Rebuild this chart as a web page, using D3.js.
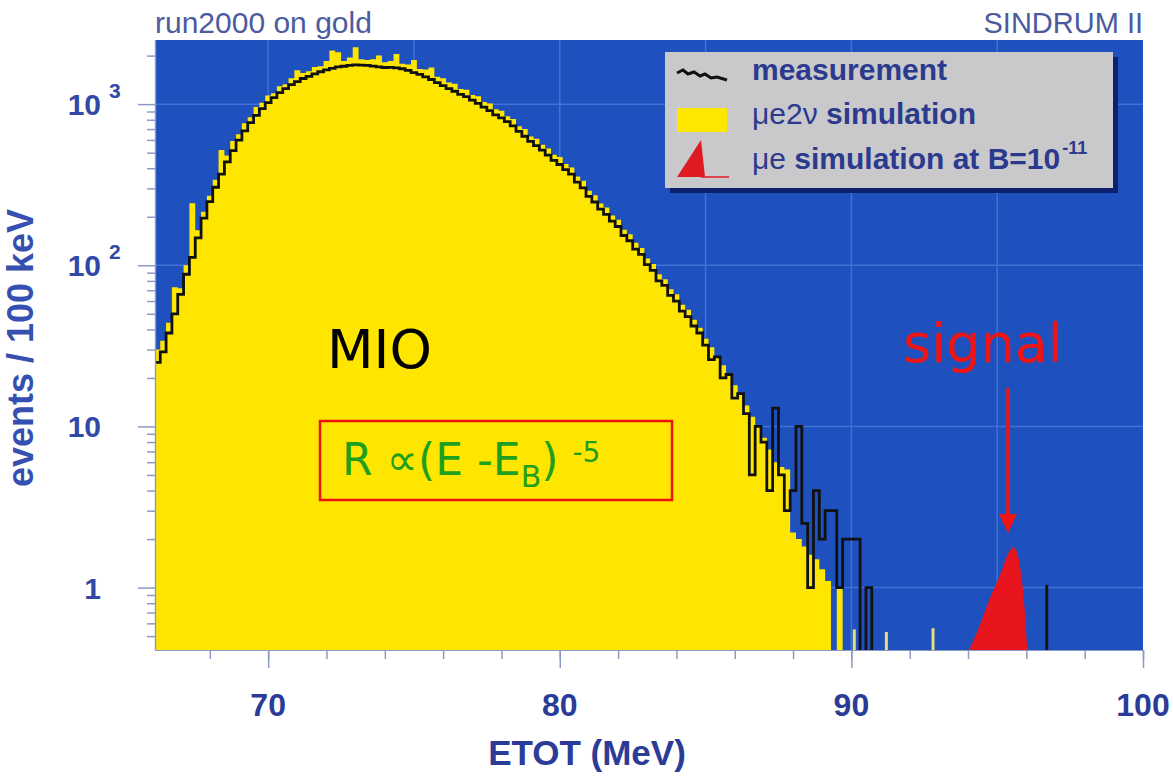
<!DOCTYPE html>
<html lang="en">
<head>
<meta charset="UTF-8">
<title>SINDRUM II - run2000 on gold</title>
<script src="https://d3js.org/d3.v7.min.js"></script>
<style>
  body { margin: 0; background: #fff; }
  svg { display: block; }
  text { font-family: "Liberation Sans", Arial, sans-serif; }
  .hand { font-family: "Comic Sans MS", "DejaVu Sans", sans-serif; }
</style>
</head>
<body>
<svg id="chart" width="1173" height="779"></svg>
<script>
// histogram binning (MeV)
var binStart = 66.1;
var binWidth = 0.2;

// mu -> e nu nu simulation (yellow), events / 100 keV
var simValues = [30, 34, 44, 73, 72, 100, 243, 165, 215, 270,
  340, 519, 480, 590, 650, 760, 830, 960, 1020, 1130,
  1170, 1290, 1330, 1450, 1620, 1560, 1600, 1700, 1720, 1850,
  2150, 2100, 1850, 1950, 2250, 1900, 1880, 1900, 2000, 1820,
  1850, 2050, 1780, 1760, 1880, 1650, 1640, 1690, 1480, 1450,
  1360, 1340, 1240, 1230, 1140, 1120, 1030, 1010, 930, 910,
  840, 810, 730, 700, 630, 610, 560, 530, 485, 470,
  425, 405, 355, 335, 290, 272, 242, 228, 204, 192,
  166, 156, 138, 128, 110, 102, 88, 82, 71, 66,
  57, 53, 46, 41, 35, 31, 27, 24, 21, 18,
  16, 13.5, 11.5, 10, 8.5, 7.2, 6, 5.6, 5.4, 2.2,
  2.0, 1.8, 1.6, 1.5, 1.3, 1.1, 0, 1.0, 0, 0,
  0, 0, 0, 0, 0];

// measurement (black line), same bins
var measValues = [25, 29, 38, 50, 66, 88, 112, 148, 196, 248,
  305, 368, 438, 515, 598, 682, 768, 852, 938, 1022,
  1098, 1180, 1248, 1322, 1378, 1442, 1488, 1542, 1588, 1632,
  1668, 1702, 1718, 1742, 1750, 1748, 1738, 1722, 1702, 1688,
  1692, 1678, 1658, 1622, 1568, 1532, 1478, 1422, 1358, 1302,
  1248, 1202, 1148, 1112, 1058, 1012, 958, 912, 858, 822,
  778, 732, 678, 632, 588, 552, 518, 482, 448, 422,
  392, 368, 328, 302, 268, 247, 223, 207, 188, 174,
  153, 142, 126, 117, 101, 93, 80, 75, 65, 60,
  52, 48, 42, 38, 32, 26, 27, 20, 21, 15,
  16, 12, 5, 10, 8, 4, 13, 5, 3, 4,
  10, 2.5, 1, 4, 2, 3, 3, 1, 2, 2,
  2, 0, 1, 0, 0];

// single 100 keV bins further out
var simTailE = [90.1, 91.2, 92.8];
var simTailV = [0.55, 0.53, 0.56];
var measTailE = [96.7];
var measTailV = [1.04];

// mu e conversion signal at B = 1e-11
var signalE = [94.04, 94.4, 94.73, 95.1, 95.4, 95.55, 95.7, 95.85, 95.95, 96.03];
var signalV = [0.41, 0.58, 0.84, 1.2, 1.65, 1.78, 1.6, 1.1, 0.7, 0.41];

var xTicks = [70, 80, 90, 100];
var yTicks = [1, 10, 100, 1000];
var yTickBase = ["1", "10", "10", "10"];
var yTickExp = ["", "", "2", "3"];

var svg = d3.select("#chart");
var pLeft = 155, pRight = 1143, pTop = 40, pBottom = 650;

var x = d3.scaleLinear().domain([66.12, 100]).range([pLeft, pRight]);
var y = d3.scaleLog().domain([0.41, 2500]).range([pBottom, pTop]).clamp(true);
function yv(v) { return v > 0 ? y(v) : pBottom + 6; }

svg.append("clipPath").attr("id", "plotClip")
  .append("rect").attr("x", pLeft).attr("y", pTop)
  .attr("width", pRight - pLeft).attr("height", pBottom - pTop);

// background
svg.append("rect")
  .attr("x", pLeft).attr("y", pTop)
  .attr("width", pRight - pLeft).attr("height", pBottom - pTop)
  .attr("fill", "#1e50be");

var plot = svg.append("g").attr("clip-path", "url(#plotClip)");

// faint grid
plot.selectAll("line.gx").data(d3.range(70, 100, 5)).enter().append("line")
  .attr("x1", d => x(d)).attr("x2", d => x(d))
  .attr("y1", pTop).attr("y2", pBottom)
  .attr("stroke", "#4272d4").attr("stroke-width", 1.5);
plot.selectAll("line.gy").data(yTicks).enter().append("line")
  .attr("x1", pLeft).attr("x2", pRight)
  .attr("y1", d => y(d)).attr("y2", d => y(d))
  .attr("stroke", "#4272d4").attr("stroke-width", 1.5);

// step outline of a histogram
function stepPoints(values) {
  var pts = [[binStart, 0]];
  values.forEach(function (v, i) {
    pts.push([binStart + i * binWidth, v]);
    pts.push([binStart + (i + 1) * binWidth, v]);
  });
  pts.push([binStart + values.length * binWidth, 0]);
  return pts;
}

var area = d3.area()
  .x(d => x(d[0]))
  .y0(pBottom + 6)
  .y1(d => yv(d[1]));

plot.append("path")
  .attr("d", area(stepPoints(simValues)))
  .attr("fill", "#ffe600");

plot.selectAll("rect.simtail").data(simTailE).enter().append("rect")
  .attr("x", d => x(d - 0.05))
  .attr("width", d => x(d + 0.05) - x(d - 0.05))
  .attr("y", (d, i) => yv(simTailV[i]))
  .attr("height", (d, i) => pBottom - yv(simTailV[i]))
  .attr("fill", "#e6e07a");

// signal
var sigPts = signalE.map((e, i) => [e, signalV[i]]);
plot.append("path")
  .attr("d", d3.area().x(d => x(d[0])).y0(pBottom).y1(d => yv(d[1]))
    .curve(d3.curveMonotoneX)(sigPts))
  .attr("fill", "#e8141e");

// measurement
var line = d3.line()
  .x(d => x(d[0]))
  .y(d => yv(d[1]));
plot.append("path")
  .attr("d", line(stepPoints(measValues)))
  .attr("fill", "none")
  .attr("stroke", "#111")
  .attr("stroke-width", 2.8);

plot.selectAll("rect.meastail").data(measTailE).enter().append("rect")
  .attr("x", d => x(d - 0.05))
  .attr("width", d => x(d + 0.05) - x(d - 0.05))
  .attr("y", (d, i) => yv(measTailV[i]))
  .attr("height", (d, i) => pBottom - yv(measTailV[i]))
  .attr("fill", "#111");

// axes
var tickColor = "#8d9ac2";
function styleAxis(g) {
  g.selectAll("path.domain").attr("stroke", tickColor).attr("stroke-width", 1.2);
  g.selectAll(".tick line").attr("stroke", tickColor).attr("stroke-width", 1.5);
  g.selectAll(".tick text").remove();
}

svg.append("g").attr("transform", "translate(0," + pBottom + ")")
  .call(d3.axisBottom(x).tickValues(d3.range(68, 101, 2)).tickSize(9).tickSizeOuter(0).tickFormat(""))
  .call(styleAxis);
svg.append("g").attr("transform", "translate(0," + pBottom + ")")
  .call(d3.axisBottom(x).tickValues(xTicks).tickSize(18).tickSizeOuter(0).tickFormat(""))
  .call(styleAxis);

var yMinor = [];
[0.1, 1, 10, 100, 1000].forEach(function (dec) {
  for (var k = 2; k <= 9; k++) {
    var v = dec * k;
    if (v >= 0.41 && v <= 2500) yMinor.push(v);
  }
});
svg.append("g").attr("transform", "translate(" + pLeft + ",0)")
  .call(d3.axisLeft(y).tickValues(yMinor).tickSize(8).tickSizeOuter(0).tickFormat(""))
  .call(styleAxis);
svg.append("g").attr("transform", "translate(" + pLeft + ",0)")
  .call(d3.axisLeft(y).tickValues(yTicks).tickSize(17).tickSizeOuter(0).tickFormat(""))
  .call(styleAxis);

var labelColor = "#2b3b98";

// tick labels
svg.selectAll("text.xt").data(xTicks).enter().append("text")
  .attr("x", d => x(d)).attr("y", 716)
  .attr("text-anchor", "middle")
  .attr("font-size", 32).attr("font-weight", "bold")
  .attr("fill", labelColor)
  .text(d => d);

svg.selectAll("text.yt").data(yTicks).enter().append("text")
  .attr("x", 101).attr("y", d => y(d) + 11)
  .attr("text-anchor", "end")
  .attr("font-size", 30).attr("font-weight", "bold")
  .attr("fill", "#3048a6")
  .text((d, i) => yTickBase[i]);
svg.selectAll("text.ye").data(yTicks).enter().append("text")
  .attr("x", 109).attr("y", d => y(d) - 6)
  .attr("font-size", 21).attr("font-weight", "bold")
  .attr("fill", "#3048a6")
  .text((d, i) => yTickExp[i]);

// axis titles
svg.append("text")
  .attr("x", 587).attr("y", 765)
  .attr("text-anchor", "middle")
  .attr("font-size", 35).attr("font-weight", "bold")
  .attr("fill", labelColor)
  .text("ETOT (MeV)");

svg.append("text")
  .attr("transform", "translate(33,348) rotate(-90)")
  .attr("text-anchor", "middle")
  .attr("font-size", 36).attr("font-weight", "bold")
  .attr("fill", "#3550b0")
  .text("events / 100 keV");

// header texts
svg.append("text")
  .attr("x", pLeft).attr("y", 33)
  .attr("font-size", 30)
  .attr("fill", "#4b5b9e")
  .text("run2000 on gold");
svg.append("text")
  .attr("x", pRight).attr("y", 33)
  .attr("text-anchor", "end")
  .attr("font-size", 29)
  .attr("fill", "#4b5b9e")
  .text("SINDRUM II");

// legend
var lg = svg.append("g").attr("transform", "translate(665,52)");
lg.append("rect").attr("x", 5).attr("y", 5).attr("width", 448).attr("height", 136).attr("fill", "#0e2170");
lg.append("rect").attr("width", 448).attr("height", 136).attr("fill", "#c9c9cb");

var legendColor = "#2c3a8e";
lg.append("path")
  .attr("d", "M12,21 l6,-3 l5,4 l6,-2 l6,4 l5,-2 l6,4 l6,-1 l10,3")
  .attr("fill", "none").attr("stroke", "#111").attr("stroke-width", 3);
lg.append("text").attr("x", 87).attr("y", 28)
  .attr("font-size", 30).attr("font-weight", "bold").attr("fill", legendColor)
  .text("measurement");

lg.append("rect").attr("x", 12).attr("y", 56).attr("width", 50).attr("height", 24).attr("fill", "#ffe800");
var t2 = lg.append("text").attr("x", 87).attr("y", 72)
  .attr("font-size", 30).attr("fill", legendColor);
t2.append("tspan").text("\u03bce2\u03bd");
t2.append("tspan").attr("font-weight", "bold").text(" simulation");

lg.append("path")
  .attr("d", "M12,125 L36,88 L40,125 Z")
  .attr("fill", "#e01a22");
lg.append("line").attr("x1", 36).attr("x2", 64).attr("y1", 125).attr("y2", 125)
  .attr("stroke", "#e01a22").attr("stroke-width", 1.5);
var t3 = lg.append("text").attr("x", 87).attr("y", 117)
  .attr("font-size", 30).attr("fill", legendColor);
t3.append("tspan").text("\u03bce");
t3.append("tspan").attr("font-weight", "bold").text(" simulation at B=10");
t3.append("tspan").attr("font-weight", "bold").attr("font-size", 18)
  .attr("dy", -15).attr("dx", 2).text("-11");

// annotations
svg.append("text").attr("class", "hand")
  .attr("x", 327).attr("y", 368)
  .attr("font-size", 54).attr("fill", "#000")
  .text("MIO");

svg.append("rect")
  .attr("x", 320).attr("y", 421).attr("width", 352).attr("height", 79)
  .attr("fill", "none").attr("stroke", "#ee1111").attr("stroke-width", 2.5);

var f = svg.append("text").attr("class", "hand")
  .attr("x", 342).attr("y", 475)
  .attr("font-size", 44).attr("fill", "#1ea01e");
f.append("tspan").text("R \u221d(E -E");
f.append("tspan").attr("font-size", 30).attr("dy", 12).text("B");
f.append("tspan").attr("dy", -12).text(")");
f.append("tspan").attr("font-size", 28).attr("dx", 14).attr("dy", -13).text("-5");

svg.append("text").attr("class", "hand")
  .attr("x", 903).attr("y", 362)
  .attr("font-size", 54).attr("fill", "#f01414")
  .text("signal");

svg.append("line")
  .attr("x1", 1008).attr("x2", 1008).attr("y1", 388).attr("y2", 518)
  .attr("stroke", "#f01414").attr("stroke-width", 3.5);
svg.append("path")
  .attr("d", "M999,514 L1017,514 L1008,533 Z")
  .attr("fill", "#f01414");
</script>
</body>
</html>
